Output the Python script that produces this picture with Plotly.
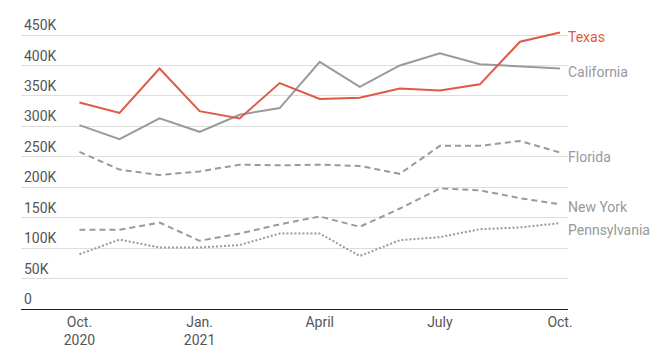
import plotly.graph_objects as go

months = ["Oct. 2020", "Nov. 2020", "Dec. 2020", "Jan. 2021", "Feb. 2021", "Mar. 2021",
          "Apr. 2021", "May 2021", "June 2021", "July 2021", "Aug. 2021", "Sep. 2021", "Oct. 2021"]
tick_months = ["Oct. 2020", "Jan. 2021", "Apr. 2021", "July 2021", "Oct. 2021"]
tick_text = ["Oct.<br>2020", "Jan.<br>2021", "April", "July", "Oct."]

texas = [339000, 322000, 395000, 325000, 313000, 371000, 345000, 347000, 362000, 359000, 369000, 439000, 454000]
california = [302000, 279000, 313000, 291000, 319000, 330000, 406000, 365000, 400000, 420000, 402000, 399000, 395000]
florida = [258000, 229000, 220000, 226000, 237000, 236000, 237000, 235000, 222000, 268000, 268000, 276000, 257000]
new_york = [130000, 130000, 142000, 112000, 124000, 139000, 152000, 135000, 165000, 198000, 195000, 182000, 172000]
pennsylvania = [90000, 114000, 101000, 101000, 105000, 124000, 124000, 87000, 113000, 118000, 131000, 134000, 141000]

y_ticks = [0, 50000, 100000, 150000, 200000, 250000, 300000, 350000, 400000, 450000]
y_text = ["0", "50K", "100K", "150K", "200K", "250K", "300K", "350K", "400K", "450K"]

RED = "#dd5a43"
GRAY = "#9a9a9a"
FONT = "Roboto"

series = [
    ("Texas", texas, RED, "solid", 2, RED, -4),
    ("California", california, GRAY, "solid", 2, "#999999", -4),
    ("Florida", florida, GRAY, "6px,4px", 2, "#999999", -4),
    ("New York", new_york, GRAY, "6px,4px", 2, "#999999", -3),
    ("Pennsylvania", pennsylvania, GRAY, "2px,2px", 2, "#999999", -7),
]

fig = go.Figure()
for name, vals, color, dash, width, lc, ys in reversed(series):
    fig.add_trace(go.Scatter(x=months, y=vals, mode="lines", name=name,
                             line=dict(color=color, width=width, dash=dash),
                             hoverinfo="skip"))

for name, vals, color, dash, width, lc, ys in series:
    fig.add_annotation(x=months[-1], y=vals[-1], text=name, showarrow=False,
                       xanchor="left", yanchor="middle", xshift=6, yshift=ys,
                       font=dict(family=FONT, size=14, color=lc))

fig.update_layout(
    width=669, height=362,
    margin=dict(l=21, r=101, t=10, b=53),
    paper_bgcolor="white", plot_bgcolor="white",
    showlegend=False,
    font=dict(family=FONT, size=14, color="#555555"),
)
fig.update_xaxes(
    type="category", range=[-1.46, 12.2], automargin=False,
    tickmode="array", tickvals=tick_months, ticktext=tick_text,
    showgrid=False, showline=True, linecolor="#222222", linewidth=1,
    ticks="", tickfont=dict(family=FONT, size=14, color="#555555"),
    zeroline=False,
)
fig.update_yaxes(
    range=[0, 491058], automargin=False,
    tickmode="array", tickvals=y_ticks, ticktext=y_text,
    showgrid=True, gridcolor="#dddddd", gridwidth=1, zeroline=False,
    ticklabelposition="inside top", ticks="",
    tickfont=dict(family=FONT, size=14, color="#555555"),
)
fig.write_html("out.html", config={"displayModeBar": False},
               post_script="document.body.style.margin='0';document.body.style.overflow='hidden';")
